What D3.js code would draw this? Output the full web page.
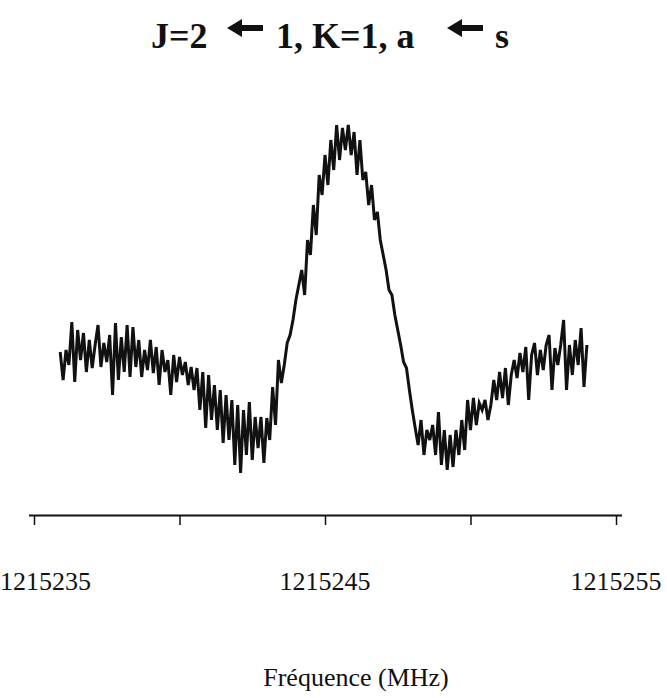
<!DOCTYPE html>
<html>
<head>
<meta charset="utf-8">
<script src="https://cdn.jsdelivr.net/npm/d3@7"></script>
<style>
  html, body { margin: 0; padding: 0; background: #fff; }
  svg { display: block; }
</style>
</head>
<body>
<div id="chart"></div>
<script>
// ---- data ----
const freqStart = 1215235.9;   // MHz, first sample
const freqStep = 0.1;          // MHz between samples
const intensity = [
  37, 30, 37.5, 33.75, 44.5, 29.5, 42.5, 35, 41.75, 32,
  40, 33, 38.75, 43.75, 33.25, 39.25, 34.5, 41.25, 26.25, 44.25,
  30, 40.75, 32, 43.75, 30.75, 43.25, 33.25, 40, 30.75, 37.5,
  32.5, 40, 31.75, 38.25, 28.75, 37.5, 32, 35, 26.25, 36.25,
  29.5, 35.75, 31.25, 34.5, 28.75, 33.25, 27.5, 33, 22.5, 32,
  18, 31.25, 20, 28.75, 17.5, 27.5, 14.25, 26.25, 15, 25,
  8.75, 23.75, 6.75, 22.5, 11.25, 24.5, 10, 20.75, 13, 20.75,
  9.25, 20.5, 15, 28.25, 18.75, 35, 29.25, 33.75, 39.25, 41.25,
  45, 50, 53.75, 57.5, 51.25, 65, 61.25, 73.75, 66.25, 81.25,
  76.25, 86.25, 78.75, 90, 82.5, 93.75, 85, 93, 87.5, 93.75,
  86.25, 92, 81.25, 90, 80, 82, 73.75, 78.75, 70, 72,
  65, 61.25, 57.5, 52.5, 51.25, 46.25, 42.5, 38.75, 34.5, 33,
  27.5, 22.5, 18, 13.75, 20, 11.25, 17.5, 15, 18.75, 11.25,
  22, 8.75, 17.5, 7.5, 16.25, 8.25, 17.5, 11.25, 20, 12.5,
  25, 17.5, 25.5, 18.75, 24.25, 22.5, 25, 20, 23.75, 30,
  25, 32, 25.5, 33, 23.75, 31.25, 35, 30.5, 36.75, 32,
  38.25, 25, 36.25, 39.25, 31.25, 37.5, 32.5, 38.75, 41.25, 27.5,
  38, 33.75, 38.75, 45, 27.5, 38.75, 31.25, 40, 33.75, 43,
  28.25, 38.75
];
const tickValues = [1215235, 1215240, 1215245, 1215250, 1215255];
const tickLabels = ["1215235", "1215245", "1215255"];
const labelValues = [1215235, 1215245, 1215255];
const titleParts = ["J=2", "1, K=1, a", "s"];
const xTitle = "Fréquence (MHz)";

// ---- chart ----
const W = 667, H = 698;
const svg = d3.select("#chart").append("svg")
  .attr("width", W).attr("height", H)
  .style("background", "#fff");

const x = d3.scaleLinear().domain([1215235, 1215255]).range([34, 616]);
const y = d3.scaleLinear().domain([0, 95]).range([500, 120]);

const pts = intensity.map((v, i) => [freqStart + i * freqStep, v]);

const line = d3.line().x(d => x(d[0])).y(d => y(d[1]));
svg.append("path")
  .datum(pts)
  .attr("d", line)
  .attr("fill", "none")
  .attr("stroke", "#111")
  .attr("stroke-width", 3)
  .attr("stroke-linejoin", "miter");

// axis
const axisY = 515;
const ax = svg.append("g")
  .attr("transform", `translate(0,${axisY})`)
  .call(d3.axisBottom(x).tickValues(tickValues).tickSize(10).tickSizeOuter(0).tickFormat(""));
ax.select(".domain").attr("d", `M${x.range()[0] - 5},0.5H${x.range()[1] + 6}`)
  .attr("stroke", "#111").attr("stroke-width", 2);
ax.selectAll(".tick line").attr("stroke", "#111").attr("stroke-width", 1.5);

// tick labels
svg.append("g").selectAll("text")
  .data(labelValues)
  .join("text")
  .attr("x", (d) => x(d))
  .attr("y", 590)
  .attr("text-anchor", "middle")
  .style("font-family", "'Liberation Serif', 'Times New Roman', serif")
  .style("font-size", "26px")
  .attr("fill", "#111")
  .text((d, i) => tickLabels[i])
  .each(function () {
    const bb = this.getBBox();
    if (bb.x < 0) d3.select(this).attr("x", +d3.select(this).attr("x") - bb.x);
    if (bb.x + bb.width > W) d3.select(this).attr("x", +d3.select(this).attr("x") - (bb.x + bb.width - W));
  });

// x title
svg.append("text")
  .attr("x", 356).attr("y", 686)
  .attr("text-anchor", "middle")
  .style("font-family", "'Liberation Serif', 'Times New Roman', serif")
  .style("font-size", "26px")
  .attr("fill", "#111")
  .text(xTitle);

// title
const tFont = "'Liberation Serif', 'Times New Roman', serif";
const title = svg.append("text")
  .attr("y", 48)
  .style("font-family", tFont)
  .style("font-size", "36px")
  .style("font-weight", "bold")
  .attr("fill", "#111");
title.append("tspan").attr("x", 151).text(titleParts[0]);
title.append("tspan").attr("x", 276).text(titleParts[1]);
title.append("tspan").attr("x", 495).text(titleParts[2]);

function arrow(x0, cy) {
  const p = d3.path();
  p.moveTo(x0, cy);
  p.lineTo(x0 + 15, cy - 9);
  p.lineTo(x0 + 15, cy - 3);
  p.lineTo(x0 + 36, cy - 3);
  p.lineTo(x0 + 36, cy + 3);
  p.lineTo(x0 + 15, cy + 3);
  p.lineTo(x0 + 15, cy + 9);
  p.closePath();
  return p.toString();
}
svg.append("path").attr("d", arrow(227, 28)).attr("fill", "#111");
svg.append("path").attr("d", arrow(447, 28)).attr("fill", "#111");
</script>
</body>
</html>
